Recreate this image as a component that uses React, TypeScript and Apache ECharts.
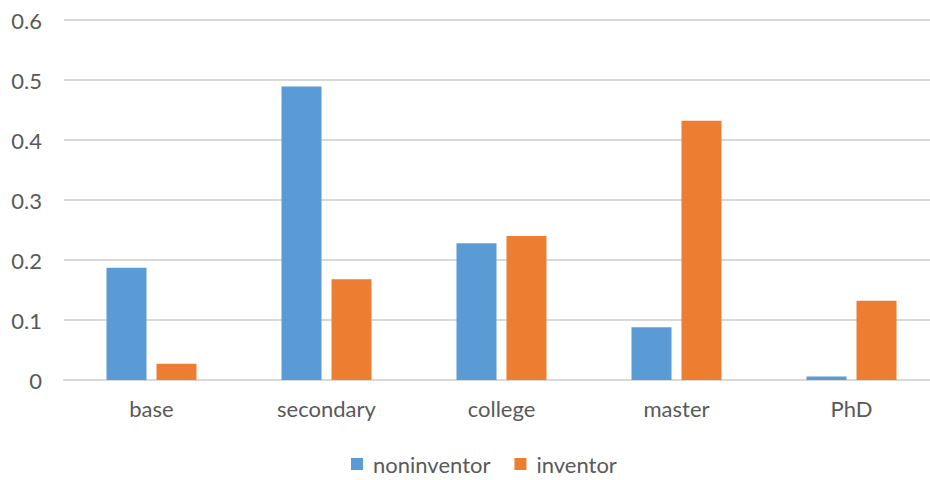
import React, { useEffect, useRef } from "react";
import * as echarts from "echarts";

const categories = ["base", "secondary", "college", "master", "PhD"];
const noninventor = [0.187, 0.489, 0.228, 0.088, 0.006];
const inventor = [0.027, 0.168, 0.24, 0.432, 0.132];
const yTicks = [0, 0.1, 0.2, 0.3, 0.4, 0.5, 0.6];

const FONT = "Lato";
const TEXT = "#595959";

export default function App() {
  const ref = useRef<HTMLDivElement>(null);
  useEffect(() => {
    document.body.style.margin = "0";
    const chart = echarts.init(ref.current!, null, { renderer: "svg" });
    chart.setOption({
      animation: false,
      backgroundColor: "#ffffff",
      textStyle: { fontFamily: FONT },
      grid: {
        left: 64,
        top: 20,
        width: 875,
        height: 360,
        containLabel: false,
        outerBoundsMode: "none",
      },
      legend: {
        bottom: 0,
        left: 346,
        itemWidth: 12,
        itemHeight: 12,
        itemGap: 24,
        icon: "rect",
        textStyle: { fontFamily: FONT, fontSize: 22, color: TEXT, padding: [0, 0, 0, 5] },
        data: ["noninventor", "inventor"],
      },
      xAxis: {
        type: "category",
        data: categories,
        axisLine: { show: true, lineStyle: { color: "#d9d9d9", width: 2 } },
        axisTick: { show: false },
        axisLabel: { fontFamily: FONT, fontSize: 22, color: TEXT, margin: 17 },
      },
      yAxis: {
        type: "value",
        min: yTicks[0],
        max: yTicks[yTicks.length - 1],
        interval: 0.1,
        axisLine: { show: false },
        axisTick: { show: false },
        splitLine: { lineStyle: { color: "#d9d9d9", width: 2 } },
        axisLabel: {
          fontFamily: FONT,
          fontSize: 22,
          color: TEXT,
          margin: 22,
          formatter: (v: number) => String(Math.round(v * 10) / 10),
        },
      },
      series: [
        {
          name: "noninventor",
          type: "bar",
          data: noninventor,
          barWidth: 40,
          barGap: "25%",
          itemStyle: { color: "#5b9bd5" },
        },
        {
          name: "inventor",
          type: "bar",
          data: inventor,
          barWidth: 40,
          itemStyle: { color: "#ed7d31" },
        },
      ],
    });
    return () => chart.dispose();
  }, []);
  return <div ref={ref} style={{ width: 930, height: 480 }} />;
}
